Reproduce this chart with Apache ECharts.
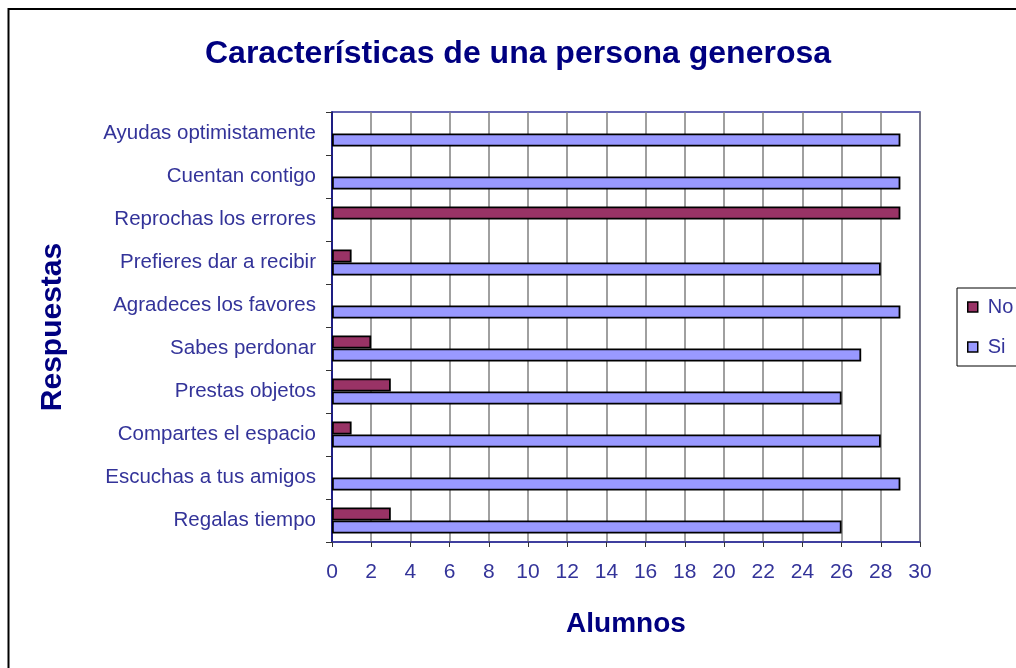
<!DOCTYPE html>
<html>
<head>
<meta charset="utf-8">
<script src="https://cdn.jsdelivr.net/npm/echarts@6/dist/echarts.min.js"></script>
<style>
  html, body { margin: 0; padding: 0; background: #fff; }
  #chart { width: 1016px; height: 668px; }
</style>
</head>
<body>
<div id="chart"></div>
<script>
const titleText = 'Características de una persona generosa';
const xAxisName = 'Alumnos';
const yAxisName = 'Respuestas';
const categories = ['Regalas tiempo', 'Escuchas a tus amigos', 'Compartes el espacio', 'Prestas objetos', 'Sabes perdonar', 'Agradeces los favores', 'Prefieres dar a recibir', 'Reprochas los errores', 'Cuentan contigo', 'Ayudas optimistamente'];
const noValues = [3, 0, 1, 3, 2, 0, 1, 29, 0, 0];
const siValues = [26, 29, 28, 26, 27, 29, 28, 0, 29, 29];
const seriesNames = ['No', 'Si'];

const FONT = '"Liberation Sans", Arial, sans-serif';
const LABEL = '#333399';
const NAVY = '#000080';

function toData(arr) {
  return arr.map(v => v === 0 ? { value: v, itemStyle: { borderWidth: 0 } } : v);
}

const chart = echarts.init(document.getElementById('chart'), null, { renderer: 'canvas' });
chart.setOption({
  animation: false,
  backgroundColor: '#fff',
  textStyle: { fontFamily: FONT },
  title: {
    text: titleText,
    left: 513, top: 33, textAlign: 'center',
    textStyle: { fontFamily: FONT, fontSize: 32, fontWeight: 'bold', color: NAVY }
  },
  legend: {
    data: seriesNames,
    orient: 'vertical',
    left: 957, top: 288,
    padding: [9, 40, 9, 10],
    itemGap: 20,
    itemWidth: 10, itemHeight: 10,
    icon: 'rect',
    borderColor: '#000', borderWidth: 1,
    textStyle: { fontFamily: FONT, fontSize: 20, color: LABEL, padding: [0, 0, 0, 5] },
    itemStyle: { borderColor: '#000', borderWidth: 1.5 }
  },
  grid: {
    left: 332, right: 96, top: 112, bottom: 126,
    show: true, borderColor: '#333399', borderWidth: 1.5,
    containLabel: false
  },
  xAxis: {
    type: 'value', min: 0, max: 30, interval: 2,
    name: xAxisName, nameLocation: 'middle', nameGap: 68,
    nameTextStyle: { fontFamily: FONT, fontSize: 28, fontWeight: 'bold', color: NAVY },
    axisLine: { show: true, lineStyle: { color: '#333399', width: 1.5 } },
    axisTick: { show: true, length: 5, lineStyle: { color: '#333' } },
    axisLabel: { fontFamily: FONT, fontSize: 21, color: LABEL, margin: 20 },
    splitLine: { show: true, lineStyle: { color: '#808080', width: 1.5 } }
  },
  yAxis: {
    type: 'category', data: categories,
    name: yAxisName, nameLocation: 'middle', nameGap: 264,
    nameRotate: 90,
    nameTextStyle: { fontFamily: FONT, fontSize: 30, fontWeight: 'bold', color: NAVY },
    axisLine: { show: true, lineStyle: { color: '#000080', width: 1.5 } },
    axisTick: { show: true, length: 6, lineStyle: { color: '#333' } },
    axisLabel: { fontFamily: FONT, fontSize: 20.5, color: LABEL, margin: 16 },
    splitLine: { show: false }
  },
  series: [
    {
      name: seriesNames[0], type: 'bar', data: toData(noValues),
      barWidth: 13, barGap: '0%',
      itemStyle: { color: '#993366', borderColor: '#000', borderWidth: 1.8 }
    },
    {
      name: seriesNames[1], type: 'bar', data: toData(siValues),
      barWidth: 13, barGap: '0%',
      itemStyle: { color: '#9999FF', borderColor: '#000', borderWidth: 1.8 }
    }
  ],
  graphic: [
    {
      type: 'rect', silent: true, z: -1,
      shape: { x: 8.5, y: 9, width: 1100, height: 700 },
      style: { fill: 'none', stroke: '#000', lineWidth: 2 }
    }
  ]
});
</script>
</body>
</html>
